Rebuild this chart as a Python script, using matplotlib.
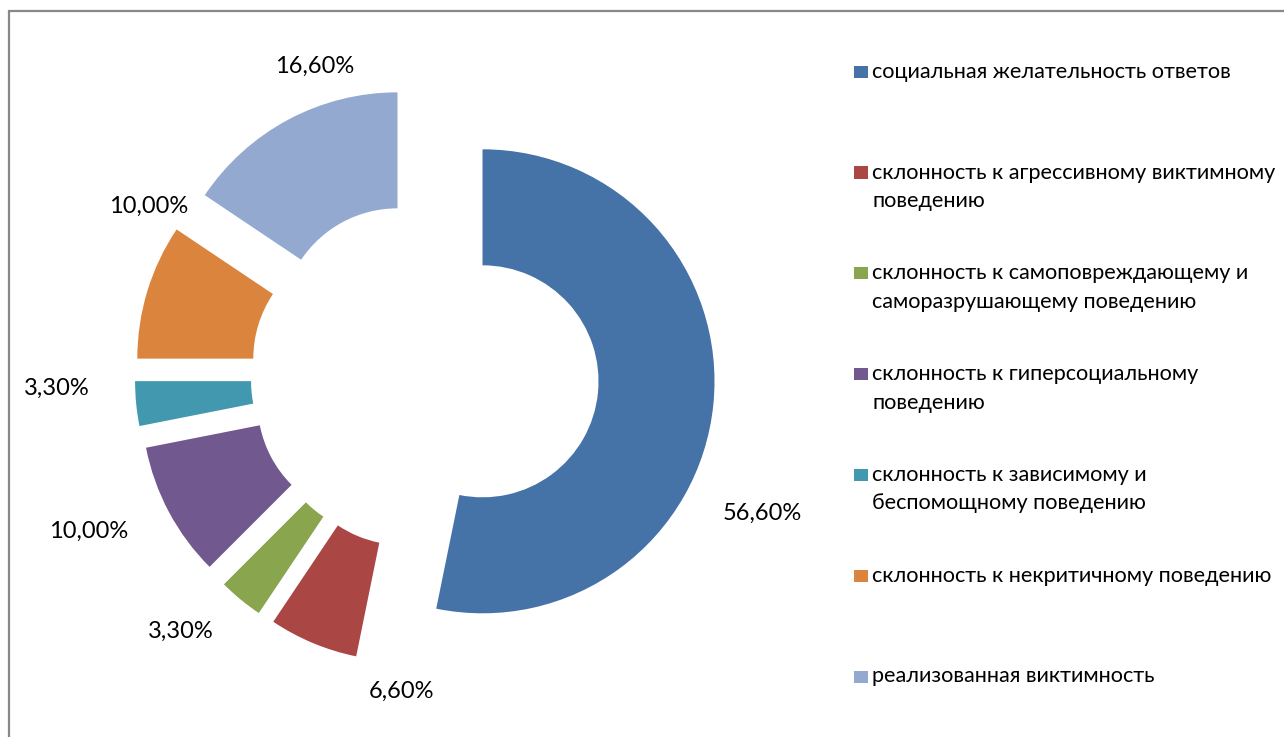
import matplotlib
matplotlib.use("Agg")
import matplotlib.pyplot as plt
from matplotlib.patches import Rectangle

# data
categories = [
    "социальная желательность ответов",
    "склонность к агрессивному виктимному\nповедению",
    "склонность к самоповреждающему и\nсаморазрушающему поведению",
    "склонность к гиперсоциальному\nповедению",
    "склонность к зависимому и\nбеспомощному поведению",
    "склонность к некритичному поведению",
    "реализованная виктимность",
]
values = [56.6, 6.6, 3.3, 10.0, 3.3, 10.0, 16.6]
value_labels = ["56,60%", "6,60%", "3,30%", "10,00%", "3,30%", "10,00%", "16,60%"]
colors = ["#4573A7", "#AA4644", "#89A54E", "#71588F", "#4198AF", "#DB843D", "#93A9CF"]

W, H = 1284, 737
R = 232.0          # outer radius in px
cx, cy = 424.8, 375.5  # unexploded centre in px (y down)

plt.rcParams['font.family'] = ['Lato', 'Noto Sans', 'DejaVu Sans']

fig = plt.figure(figsize=(W / 100, H / 100), dpi=100)
ax = fig.add_axes([0, 0, 1, 1])


def px(x, y):
    # pixel (y down) -> data units of the pie (radius = 1)
    return x / R, (H - y) / R


ax.pie(values, colors=colors, startangle=90, counterclock=False,
       radius=1.0, center=px(cx, cy), explode=[0.25] * len(values),
       wedgeprops=dict(width=0.5, linewidth=0), frame=True)
ax.set_xlim(0, W / R)
ax.set_ylim(0, H / R)
ax.set_aspect("equal")
ax.axis("off")

# value labels (x centre, baseline) in px
label_pos = [(762, 520), (401, 698), (181, 638), (89, 538),
             (57, 395), (149, 213), (315, 73)]
for (lx, ly), t in zip(label_pos, value_labels):
    ax.text(*px(lx, ly), t, ha="center", va="baseline", fontsize=17, color="black")

# chart frame (runs off right and bottom)
fig.add_artist(Rectangle((9 / W, -0.1), 1.2, 1 - 11 / H + 0.1, transform=fig.transFigure,
                         fill=False, edgecolor="#888888", linewidth=1.6))

# legend drawn like the excel one
leg_y0 = 71.7
leg_step = 100.8
for i, (name, c) in enumerate(zip(categories, colors)):
    yc = leg_y0 + i * leg_step
    fig.add_artist(Rectangle((854 / W, 1 - (yc + 6) / H), 14 / W, 12 / H,
                             transform=fig.transFigure, facecolor=c, edgecolor="none"))
    for j, line in enumerate(name.split("\n")):
        ax.text(*px(872, yc + 6 + j * 28.5), line, ha="left", va="baseline",
                fontsize=15.6, color="black")

fig.savefig("out.png", dpi=100)
